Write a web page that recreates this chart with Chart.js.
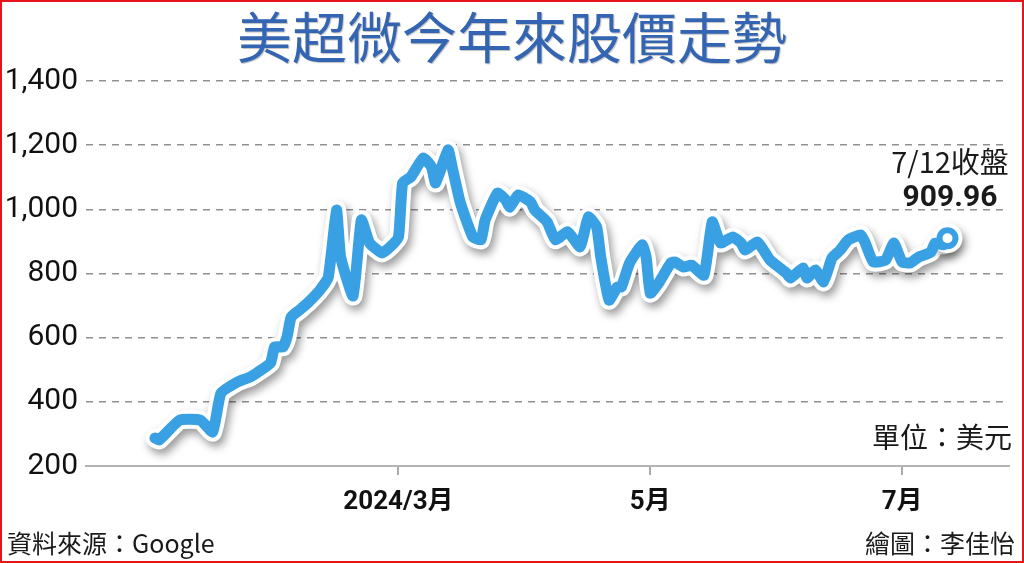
<!DOCTYPE html>
<html>
<head>
<meta charset="utf-8">
<script src="https://cdn.jsdelivr.net/npm/chart.js@4"></script>
<style>
    body { margin: 0; background: #fff; }
    #wrap { position: relative; width: 1024px; height: 563px; overflow: hidden; background: #fff; }
    #frame { position: absolute; left: 0; top: 0; width: 1020px; height: 559px; border: 2px solid #e8141c; pointer-events: none; }
    .txt { position: absolute; font-family: "Noto Sans CJK TC", "Noto Sans", sans-serif; color: #1a1a1a; line-height: 1; white-space: nowrap; }
    #title { left: 0; width: 1024px; top: 7px; text-align: center; font-size: 55px; font-weight: 400; color: #3465b2; text-shadow: 1px 1px 1px rgba(0,0,0,0.25); }
    #closeLabel { left: 880px; width: 140px; top: 146px; text-align: center; font-size: 29px; }
    #closeValue { left: 880px; width: 140px; top: 181px; text-align: center; font-size: 30px; font-weight: bold; font-family: Roboto, "Noto Sans", sans-serif; }
    #unit { right: 12px; top: 422px; font-size: 28px; }
    #source { left: 7px; top: 530px; font-size: 25px; }
    #credit { right: 9px; top: 530px; font-size: 25px; }
</style>
</head>
<body>
<div id="wrap">
    <canvas id="chart" width="1024" height="563"></canvas>
    <div class="txt" id="title">美超微今年來股價走勢</div>
    <div class="txt" id="closeLabel"></div>
    <div class="txt" id="closeValue"></div>
    <div class="txt" id="unit">單位：美元</div>
    <div class="txt" id="source">資料來源：Google</div>
    <div class="txt" id="credit">繪圖：李佳怡</div>
    <div id="frame"></div>
</div>
<script>
// day of year 2024 (Jan 1 = 0)
const days = [1, 2, 7, 12, 15, 17, 21, 24, 26, 29,
    30, 32, 33, 34, 36, 38, 41, 43, 45, 46,
    49, 51, 53, 56, 58, 60, 61, 63, 66, 68,
    69, 72, 73, 75, 78, 80, 81, 84, 86, 87,
    89, 92, 93, 96, 98, 101, 104, 106, 108, 109,
    111, 113, 114, 116, 119, 120, 121, 123, 126, 127,
    129, 131, 134, 136, 138, 141, 143, 144, 147, 150,
    154, 155, 158, 159, 161, 163, 165, 167, 169, 172,
    173, 175, 178, 180, 182, 184, 186, 189, 190, 192,
    193];
// closing price, USD
const prices = [287, 281, 343, 343, 306, 427, 462, 477, 493, 521,
    571, 571, 602, 664, 686, 708, 749, 789, 998, 851,
    730, 967, 895, 864, 883, 914, 1082, 1101, 1160, 1132,
    1082, 1185, 1132, 1020, 914, 905, 967, 1051, 1029, 1007,
    1045, 1023, 998, 961, 905, 930, 883, 976, 945, 851,
    717, 758, 758, 833, 889, 851, 739, 770, 833, 836,
    820, 826, 795, 961, 895, 914, 895, 873, 898, 842,
    801, 786, 817, 786, 811, 774, 848, 873, 905, 920,
    898, 836, 842, 895, 836, 833, 851, 867, 895, 889,
    909.96];

const tickDays = [60, 121, 182];
const tickLabels = ['2024/3月', '5月', '7月'];
const lastDateLabel = '7/12收盤';

const blue = '#3aa0e4';
const points = days.map((d, i) => ({ x: d, y: prices[i] }));
const last = points.length - 1;

document.getElementById('closeLabel').textContent = lastDateLabel;
document.getElementById('closeValue').textContent = prices[last].toFixed(2);

// shadow under the white outline line
const lineShadow = {
    id: 'lineShadow',
    beforeDatasetDraw(chart, args) {
        if (args.index === 1) {
            const c = chart.ctx;
            c.save();
            c.shadowColor = 'rgba(0,0,0,0.4)';
            c.shadowBlur = 8;
            c.shadowOffsetX = 3;
            c.shadowOffsetY = 5;
        }
    },
    afterDatasetDraw(chart, args) {
        if (args.index === 1) chart.ctx.restore();
    }
};

new Chart(document.getElementById('chart'), {
    type: 'line',
    data: {
        datasets: [{
            data: points,
            borderColor: blue,
            borderWidth: 11,
            tension: 0.15,
            borderJoinStyle: 'round',
            borderCapStyle: 'round',
            pointRadius: points.map((p, i) => i === last ? 8 : 0),
            pointBackgroundColor: '#fff',
            pointBorderColor: blue,
            pointBorderWidth: 6
        }, {
            data: points,
            borderColor: '#fff',
            borderWidth: 19,
            tension: 0.15,
            borderJoinStyle: 'round',
            borderCapStyle: 'round',
            pointRadius: points.map((p, i) => i === last ? 15 : 0),
            pointBackgroundColor: '#fff',
            pointBorderWidth: 0
        }]
    },
    options: {
        responsive: false,
        animation: false,
        layout: { padding: { top: 81, right: 14, left: 0, bottom: 0 } },
        plugins: { legend: { display: false }, tooltip: { enabled: false } },
        scales: {
            x: {
                type: 'linear',
                min: -15.7,
                max: 207.9,
                afterBuildTicks: s => { s.ticks = tickDays.map(v => ({ value: v })); },
                afterFit: s => { s.height = 97; },
                ticks: {
                    autoSkip: false,
                    maxRotation: 0,
                    padding: 12,
                    color: '#111',
                    font: { family: 'Roboto, "Noto Sans CJK TC"', size: 26, weight: 'bold' },
                    callback: v => tickLabels[tickDays.indexOf(v)]
                },
                grid: { drawOnChartArea: false, drawTicks: true, tickLength: 9, color: '#aaa', lineWidth: 2 },
                border: { display: true, color: '#b4b4b4', width: 2 }
            },
            y: {
                min: 200,
                max: 1400,
                afterFit: s => { s.width = 86; },
                ticks: {
                    stepSize: 200,
                    padding: 8,
                    color: '#111',
                    font: { family: 'Roboto', size: 30 },
                    callback: v => v.toLocaleString('en-US')
                },
                grid: {
                    drawTicks: false,
                    lineWidth: 1.5,
                    color: c => c.tick && c.tick.value === 200 ? 'rgba(0,0,0,0)' : '#909090'
                },
                border: { display: false, dash: [7, 6] }
            }
        }
    },
    plugins: [lineShadow]
});
</script>
</body>
</html>
